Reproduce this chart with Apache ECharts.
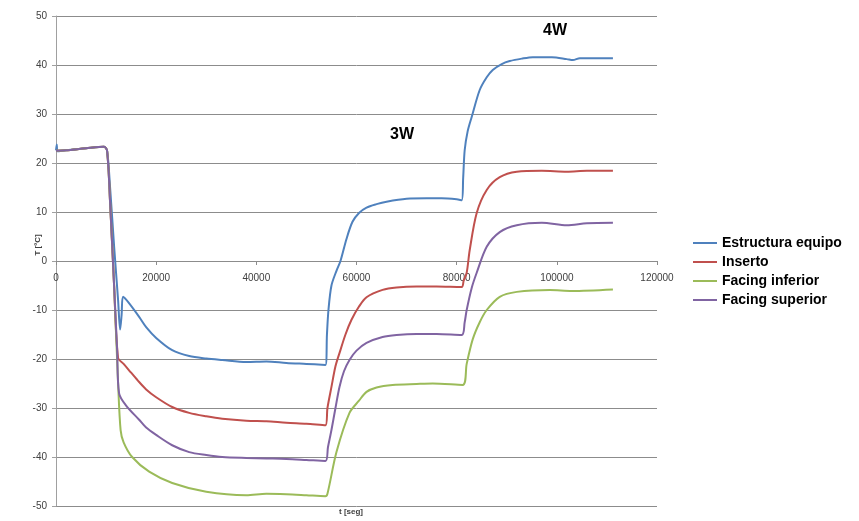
<!DOCTYPE html>
<html>
<head>
<meta charset="utf-8">
<script src="https://cdn.jsdelivr.net/npm/echarts@6/dist/echarts.min.js"></script>
<style>
  html, body { margin: 0; padding: 0; background: #fff; }
  #chart { width: 859px; height: 521px; }
</style>
</head>
<body>
<div id="chart"></div>
<script>
// series names, in legend order
var seriesNames = ['Estructura equipo', 'Inserto', 'Facing inferior', 'Facing superior'];
var seriesColors = ['#4F81BD', '#C0504D', '#9BBB59', '#8064A2'];

// [t (seg), T (ºC)]
var estructura = [
  [0, 22.6], [150, 23.8], [300, 22.4], [2000, 22.6], [6000, 23.0], [9600, 23.3], [10200, 22.5],
  [10800, 15], [11600, 3], [12400, -8], [12800, -14], [13100, -11], [13400, -7.3], [14500, -8.5],
  [16600, -11.4], [18000, -13.5], [20000, -15.7], [23200, -18.2], [26600, -19.4], [30000, -19.9],
  [33200, -20.2], [38000, -20.6], [42000, -20.5], [46000, -20.8], [50000, -21.0], [53800, -21.2],
  [54100, -15], [54400, -10], [55000, -5], [56000, -2], [56800, 0], [58000, 4.5], [59200, 8],
  [60500, 9.8], [62000, 10.9], [64000, 11.6], [66000, 12.1], [70000, 12.7], [74000, 12.8],
  [77000, 12.8], [80000, 12.6], [81000, 12.4], [81300, 17], [81600, 22.6], [82200, 26.5],
  [83000, 29.4], [84600, 34.9], [86000, 37.5], [87200, 39], [89000, 40.2], [90600, 40.8],
  [93000, 41.3], [95200, 41.6], [99000, 41.6], [102000, 41.2], [103200, 41.0], [104600, 41.4],
  [108000, 41.4], [111200, 41.4]
];
var inserto = [
  [0, 22.5], [2000, 22.6], [6000, 23.0], [9600, 23.3], [10200, 22.5], [10800, 12], [11600, -5],
  [12400, -19.8], [13500, -21], [15000, -22.8], [16600, -24.7], [18000, -26.2], [20000, -27.8],
  [23200, -29.8], [26600, -31], [30000, -31.7], [33200, -32.2], [38000, -32.6], [42000, -32.7],
  [46000, -33.0], [50000, -33.2], [53800, -33.5], [54200, -30], [55000, -25.7], [55800, -21.5],
  [56600, -18.8], [57800, -15], [59000, -12], [60500, -9.3], [62000, -7.4], [65200, -5.9],
  [68000, -5.4], [72000, -5.2], [76000, -5.2], [81000, -5.3], [81400, -4], [82000, -2.4],
  [82600, 2.2], [84000, 9.8], [86000, 14.5], [88600, 17.1], [92000, 18.2], [97000, 18.4],
  [102000, 18.2], [106000, 18.4], [111200, 18.4]
];
var facingInferior = [
  [0, 22.5], [2000, 22.6], [6000, 23.0], [9600, 23.3], [10200, 22.5], [10800, 12], [11600, -5],
  [12400, -25], [12900, -34.5], [13500, -37], [15200, -40], [18600, -43], [23200, -45.3],
  [30000, -47.1], [38000, -47.8], [42000, -47.5], [46000, -47.6], [50000, -47.8], [53800, -48],
  [54200, -47.5], [56000, -39], [58600, -31], [60500, -28.5], [62000, -26.7], [64000, -25.8],
  [67200, -25.3], [72000, -25.1], [75200, -25], [81200, -25.3], [82000, -21], [83200, -16],
  [84600, -12.5], [86000, -10], [88600, -7.3], [92000, -6.3], [98600, -5.9], [103000, -6.1],
  [111200, -5.8]
];
var facingSuperior = [
  [0, 22.5], [2000, 22.6], [6000, 23.0], [9600, 23.3], [10200, 22.5], [10800, 12], [11600, -5],
  [12200, -18], [12600, -27], [14000, -29.5], [16600, -32.4], [18000, -34], [20000, -35.5],
  [23200, -37.6], [26600, -39], [30000, -39.6], [33200, -40], [38000, -40.2], [42000, -40.3],
  [46000, -40.4], [50000, -40.6], [53800, -40.8], [54300, -38], [55000, -34.5], [55800, -30],
  [56600, -25.7], [57500, -22.5], [58600, -20.2], [60000, -18.3], [62000, -16.7], [65200, -15.5],
  [68000, -15.1], [72000, -14.9], [76000, -14.9], [81000, -15.1], [81600, -12.5], [82000, -10],
  [83000, -5.5], [84000, -2.4], [86000, 2.9], [88600, 5.9], [92000, 7.3], [97000, 7.8],
  [102000, 7.3], [106000, 7.7], [111200, 7.8]
];
var allData = [estructura, inserto, facingInferior, facingSuperior];

// axis ranges
var xMin = 0, xMax = 120000, xStep = 20000;
var yMin = -50, yMax = 50, yStep = 10;

var labelFont = '"Liberation Sans", Arial, sans-serif';
var gridTop = 16, gridBottom = 15, chartH = 521;

var chart = echarts.init(document.getElementById('chart'), null, { renderer: 'canvas' });

var series = seriesNames.map(function(name, i) {
  return {
    name: name,
    type: 'line',
    data: allData[i],
    showSymbol: false,
    symbol: 'none',
    smooth: 0.3,
    lineStyle: { color: seriesColors[i], width: 2 },
    itemStyle: { color: seriesColors[i] }
  };
});

// x axis sits on T = 0: shift it up from the bottom of the grid
var plotH = chartH - gridTop - gridBottom;
var zeroOffset = -plotH * (0 - yMin) / (yMax - yMin);

chart.setOption({
  animation: false,
  backgroundColor: '#fff',
  textStyle: { fontFamily: labelFont },
  grid: { left: 56, right: 202, top: gridTop, bottom: gridBottom, containLabel: false },
  legend: {
    orient: 'vertical',
    left: 688,
    top: 231,
    icon: 'rect',
    itemWidth: 24,
    itemHeight: 2,
    itemGap: 5,
    textStyle: { color: '#000', fontSize: 14, fontWeight: 'bold', fontFamily: labelFont, lineHeight: 14 },
    data: seriesNames
  },
  xAxis: {
    type: 'value',
    position: 'bottom',
    offset: zeroOffset,
    min: xMin, max: xMax, interval: xStep,
    axisLine: { show: true, onZero: false, lineStyle: { color: '#8c8c8c', width: 1 } },
    axisTick: { show: true, length: 4, lineStyle: { color: '#8c8c8c' } },
    axisLabel: { color: '#404040', fontSize: 10, margin: 12, formatter: function(v) { return String(v); } },
    splitLine: { show: false }
  },
  yAxis: {
    type: 'value',
    min: yMin, max: yMax, interval: yStep,
    axisLine: { show: true, lineStyle: { color: '#a0a0a0', width: 1 } },
    axisTick: { show: true, length: 4, lineStyle: { color: '#a0a0a0' } },
    axisLabel: { color: '#404040', fontSize: 10, margin: 9 },
    splitLine: { show: true, lineStyle: { color: '#8c8c8c', width: 1 } }
  },
  graphic: [
    { type: 'text', x: 38, y: 245, rotation: Math.PI / 2,
      style: { text: 'T [ºC]', fill: '#404040', font: 'bold 8px ' + labelFont,
               align: 'center', verticalAlign: 'middle' } },
    { type: 'text', left: 339, top: 508,
      style: { text: 't [seg]', fill: '#404040', font: 'bold 8px ' + labelFont } },
    { type: 'text', left: 390, top: 127,
      style: { text: '3W', fill: '#000', font: 'bold 16px ' + labelFont } },
    { type: 'text', left: 543, top: 23,
      style: { text: '4W', fill: '#000', font: 'bold 16px ' + labelFont } }
  ],
  series: series
});
window.addEventListener('resize', function() { chart.resize(); });
</script>
</body>
</html>
